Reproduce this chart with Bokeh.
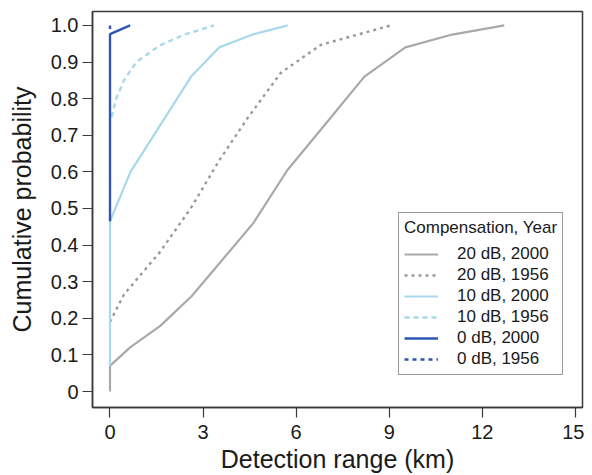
from bokeh.plotting import figure
from bokeh.models import Range1d, FixedTicker, PrintfTickFormatter, Legend, LegendItem
from bokeh.embed import file_html
from bokeh.resources import INLINE

# ---- data ----
x_20_2000 = [0, 0, 0.64, 1.63, 2.63, 4.62, 5.72, 6.94, 8.2, 9.52, 11.03, 12.71]
y_20_2000 = [0, 0.07, 0.12, 0.18, 0.26, 0.46, 0.605, 0.73, 0.86, 0.94, 0.975, 1.0]

x_20_1956 = [0, 0.45, 1.6, 2.6, 3.55, 4.42, 5.5, 6.8, 9.05]
y_20_1956 = [0.19, 0.265, 0.38, 0.5, 0.635, 0.745, 0.87, 0.947, 1.0]

x_10_2000 = [0, 0, 0.66, 2.63, 3.52, 4.62, 5.73]
y_10_2000 = [0.07, 0.465, 0.6, 0.862, 0.94, 0.976, 1.0]

x_10_1956 = [0.05, 0.2, 0.45, 0.85, 1.6, 2.4, 3.35]
y_10_1956 = [0.75, 0.8, 0.85, 0.9, 0.945, 0.975, 1.0]

x_0_2000 = [0, 0, 0.65]
y_0_2000 = [0.465, 0.976, 1.0]

x_0_1956 = [0, 0]
y_0_1956 = [0.99, 1.0]

series_labels = ["20 dB, 2000", "20 dB, 1956", "10 dB, 2000", "10 dB, 1956", "0 dB, 2000", "0 dB, 1956"]
legend_title = "Compensation, Year"

x_ticks = [0, 3, 6, 9, 12, 15]
y_ticks = [0, 0.1, 0.2, 0.3, 0.4, 0.5, 0.6, 0.7, 0.8, 0.9, 1.0]

FONT = "Liberation Sans"
GRAY = "#a9a9a9"
GRAY_D = "#9a9a9a"
LBLUE = "#a8d8ea"
DBLUE = "#2f55b4"
DARK = "#3a3a3a"

p = figure(frame_width=490, frame_height=396, output_backend="svg", toolbar_location=None,
           x_range=Range1d(-0.564, 15.23), y_range=Range1d(-0.0437, 1.038),
           min_border_left=92, min_border_top=11, min_border_right=2, min_border_bottom=0)
p.grid.visible = False
p.background_fill_color = "white"
p.border_fill_color = "white"
p.outline_line_color = DARK
p.outline_line_width = 1.5

r1 = p.line(x_20_2000, y_20_2000, line_color=GRAY, line_width=2.2)
r2 = p.line(x_20_1956, y_20_1956, line_color=GRAY_D, line_width=2.4, line_dash="3 4")
r3 = p.line(x_10_2000, y_10_2000, line_color=LBLUE, line_width=2.2)
r4 = p.line(x_10_1956, y_10_1956, line_color=LBLUE, line_width=2.4, line_dash="5 4")
r5 = p.line(x_0_2000, y_0_2000, line_color=DBLUE, line_width=2.4)
r6 = p.line(x_0_1956, y_0_1956, line_color=DBLUE, line_width=2.4, line_dash="4 4")

for ax in (p.xaxis[0], p.yaxis[0]):
    ax.axis_line_color = DARK
    ax.axis_line_width = 1.5
    ax.major_tick_line_color = DARK
    ax.major_tick_line_width = 1.2
    ax.major_tick_out = 10
    ax.major_tick_in = 0
    ax.minor_tick_line_color = None
    ax.major_label_text_font = FONT
    ax.major_label_text_font_size = "20px"
    ax.major_label_text_color = "#1a1a1a"
    ax.axis_label_text_font = FONT
    ax.axis_label_text_font_size = "25px"
    ax.axis_label_text_font_style = "normal"
    ax.axis_label_text_color = "#1a1a1a"

p.xaxis[0].ticker = FixedTicker(ticks=x_ticks)
p.xaxis[0].axis_label = "Detection range (km)"
p.xaxis[0].major_label_standoff = 7
p.xaxis[0].axis_label_standoff = 3

p.yaxis[0].ticker = FixedTicker(ticks=y_ticks)
p.yaxis[0].formatter = PrintfTickFormatter(format="%.1f")
p.yaxis[0].major_label_overrides = {0: "0"}
p.yaxis[0].axis_label = "Cumulative probability"
p.yaxis[0].major_label_standoff = 4
p.yaxis[0].axis_label_standoff = 12

items = [LegendItem(label=lab, renderers=[r]) for lab, r in zip(series_labels, [r1, r2, r3, r4, r5, r6])]
legend = Legend(items=items, location=(306, 32), title=legend_title,
                title_text_font=FONT, title_text_font_size="17px", title_text_font_style="normal",
                title_text_color="#1a1a1a", title_standoff=6,
                label_text_font=FONT, label_text_font_size="17px", label_text_color="#1a1a1a",
                label_height=20, glyph_height=20, glyph_width=34, label_standoff=19,
                spacing=1, padding=5, margin=0,
                border_line_color=DARK, border_line_width=1.2,
                background_fill_color="white", background_fill_alpha=1.0)
p.add_layout(legend, "center")

open("out.html", "w").write(file_html(p, INLINE))
